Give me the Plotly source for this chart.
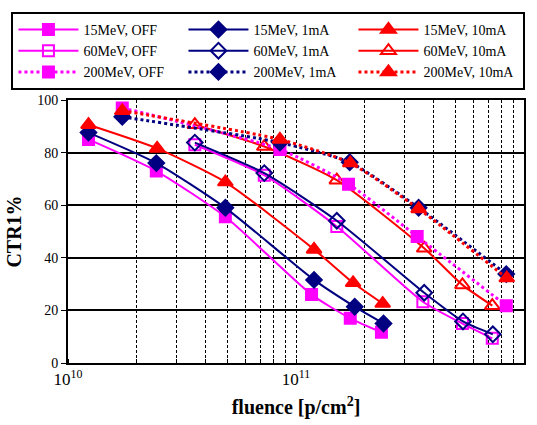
import plotly.graph_objects as go

# ---- data ----
x_15 = [1.23e10, 2.44e10, 4.9e10, 1.17e11, 1.73e11, 2.37e11]
y_15_off = [85.0, 73.0, 55.6, 26.0, 17.0, 11.7]
x_15_1 = [1.23e10, 2.44e10, 4.9e10, 1.2e11, 1.81e11, 2.42e11]
y_15_1 = [87.6, 76.0, 59.0, 31.6, 21.4, 15.0]
x_15_10 = [1.23e10, 2.46e10, 4.9e10, 1.2e11, 1.78e11, 2.4e11]
y_15_10 = [90.6, 81.6, 68.8, 43.2, 30.5, 22.6]

x_60 = [3.6e10, 7.26e10, 1.51e11, 3.6e11, 5.37e11, 7.26e11]
y_60_off = [83.0, 71.4, 51.9, 23.3, 15.0, 9.4]
x_60_1 = [3.6e10, 7.26e10, 1.51e11, 3.65e11, 5.4e11, 7.3e11]
y_60_1 = [83.8, 72.2, 54.1, 26.7, 15.8, 10.9]
x_60_10 = [3.6e10, 7.26e10, 1.51e11, 3.65e11, 5.37e11, 7.26e11]
y_60_10 = [90.6, 82.3, 69.5, 43.6, 29.7, 21.8]

x_200 = [1.73e10, 8.5e10, 1.7e11, 3.4e11, 8.36e11]
y_200_off = [97.0, 81.2, 68.0, 48.1, 21.8]
x_200_1 = [1.73e10, 8.5e10, 1.72e11, 3.45e11, 8.36e11]
y_200_1 = [93.6, 83.8, 76.3, 59.0, 33.8]
x_200_10 = [1.73e10, 8.5e10, 1.73e11, 3.45e11, 8.4e11]
y_200_10 = [95.9, 85.0, 76.0, 58.6, 32.3]

x_tick_vals = [1e10, 1e11, 1e12]
x_tick_text = ["10<sup>10</sup>", "10<sup>11</sup>", "10<sup>12</sup>"]

MAG = "#FF00FF"
NAVY = "#000080"
RED = "#FF0000"

series = [
    ("15MeV, OFF", x_15, y_15_off, MAG, "square", "solid", 2, 11),
    ("15MeV, 1mA", x_15_1, y_15_1, NAVY, "diamond", "solid", 2, 12),
    ("15MeV, 10mA", x_15_10, y_15_10, RED, "triangle-up", "solid", 2, 13),
    ("60MeV, OFF", x_60, y_60_off, MAG, "square-open", "solid", 2, 11),
    ("60MeV, 1mA", x_60_1, y_60_1, NAVY, "diamond-open", "solid", 2, 12),
    ("60MeV, 10mA", x_60_10, y_60_10, RED, "triangle-up-open", "solid", 2, 13),
    ("200MeV, OFF", x_200, y_200_off, MAG, "square", "dot", 3, 11),
    ("200MeV, 1mA", x_200_1, y_200_1, NAVY, "diamond", "dot", 3, 12),
    ("200MeV, 10mA", x_200_10, y_200_10, RED, "triangle-up", "dot", 3, 13),
]

fig = go.Figure()
for name, xs, ys, col, sym, dash, lw, ms in series:
    fig.add_trace(go.Scatter(
        x=xs, y=ys, name=name, mode="lines+markers",
        line=dict(color=col, width=lw, dash=dash, shape="spline", smoothing=0.6),
        marker=dict(symbol=sym, size=ms, color=col,
                    line=dict(color=col, width=2)),
    ))

fig.update_layout(
    width=537, height=425,
    margin=dict(l=64, r=13, t=97, b=62),
    paper_bgcolor="white", plot_bgcolor="white",
    font=dict(family="Liberation Serif", color="black", size=14),
    legend=dict(
        orientation="h", x=-0.124, y=1.335, xanchor="left", yanchor="top",
        entrywidth=95, entrywidthmode="pixels",
        bordercolor="black", borderwidth=2,
        font=dict(family="Liberation Serif", size=14),
        itemwidth=60,
    ),
    showlegend=True,
)

fig.update_xaxes(
    type="log", range=[10, 12], automargin=False,
    tickvals=x_tick_vals, ticktext=x_tick_text,
    tickfont=dict(size=17),
    showline=True, linecolor="black", linewidth=2, mirror=True,
    showgrid=True, gridcolor="black", gridwidth=1, griddash="3px,2px",
    ticks="",
    minor=dict(dtick="D1", showgrid=True, gridcolor="black", griddash="3px,2px",
               ticks="inside", ticklen=4, tickcolor="black"),
    title=dict(text="<b>fluence [p/cm<sup>2</sup>]</b>", font=dict(size=20), standoff=12),
    zeroline=False,
)
fig.update_yaxes(
    range=[0, 100], dtick=20, automargin=False,
    showline=True, linecolor="black", linewidth=2, mirror=True,
    showgrid=True, gridcolor="black", gridwidth=1.5,
    ticks="outside", ticklen=5, tickcolor="black",
    title=dict(text="<b>CTR1%</b>", font=dict(size=20), standoff=10),
    zeroline=False,
)

fig.write_html("out.html")
